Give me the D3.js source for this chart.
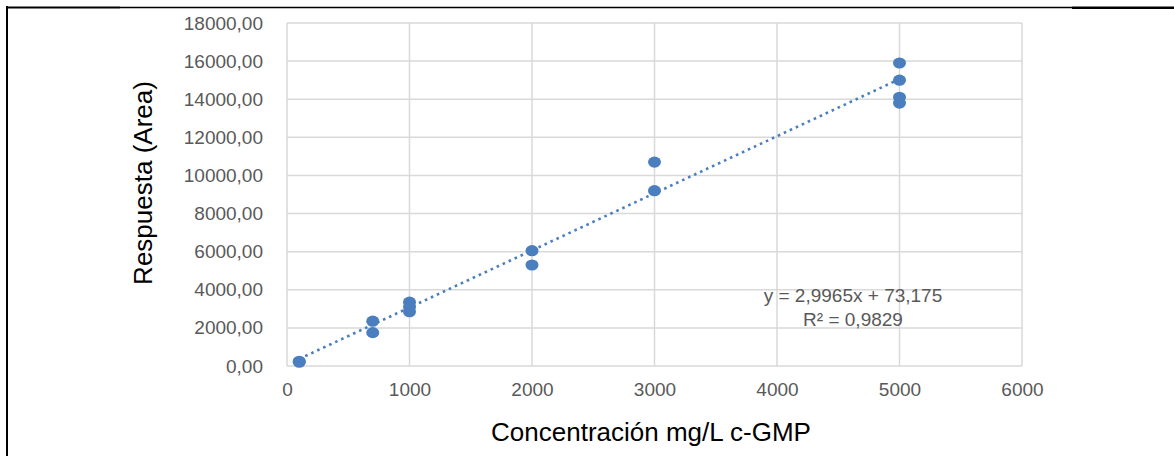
<!DOCTYPE html>
<html>
<head>
<meta charset="utf-8">
<script src="https://cdn.jsdelivr.net/npm/d3@7"></script>
<style>
  html, body { margin: 0; padding: 0; background: #fff; }
  svg { display: block; }
</style>
</head>
<body>
<svg id="chart" width="1174" height="456"></svg>
<script>
// ---- data ----
const concentrations = [100, 100, 700, 700, 1000, 1000, 1000, 2000, 2000, 3000, 3000, 5000, 5000, 5000, 5000];
const areas          = [250, 200, 2350, 1750, 3350, 3100, 2850, 6050, 5300, 10700, 9200, 15900, 15000, 14100, 13800];
const slope = 2.9965;
const intercept = 73.175;
const r2Label = "R² = 0,9829";
const eqLabel = "y = 2,9965x + 73,175";
const xTicks = [0, 1000, 2000, 3000, 4000, 5000, 6000];
const yTicks = [0, 2000, 4000, 6000, 8000, 10000, 12000, 14000, 16000, 18000];
const xTitle = "Concentración mg/L c-GMP";
const yTitle = "Respuesta (Area)";

(function () {
// ---- layout ----
const svg = d3.select("#chart");
const pL = 287, pR = 1022, pT = 23, pB = 366;
const x = d3.scaleLinear().domain([0, 6000]).range([pL, pR]);
const y = d3.scaleLinear().domain([0, 18000]).range([pB, pT]);

const loc = d3.formatLocale({decimal: ",", thousands: "", grouping: [3], currency: ["", ""]});
const fmtY = loc.format(".2f");

const font = "'Liberation Sans', Arial, sans-serif";
const tickColor = "#595959";
const gridColor = "#d9d9d9";
const markColor = "#4a7ebf";

// page frame
svg.append("line").attr("x1", 7).attr("x2", 7).attr("y1", 6).attr("y2", 456)
  .attr("stroke", "#000").attr("stroke-width", 2);
svg.append("line").attr("x1", 6).attr("x2", 120).attr("y1", 7.5).attr("y2", 7.5)
  .attr("stroke", "#000").attr("stroke-width", 2);
svg.append("line").attr("x1", 120).attr("x2", 1072).attr("y1", 7.5).attr("y2", 7.5)
  .attr("stroke", "#000").attr("stroke-width", 1.3);
svg.append("line").attr("x1", 1072).attr("x2", 1174).attr("y1", 7.8).attr("y2", 7.8)
  .attr("stroke", "#000").attr("stroke-width", 2.6);

// grid
const g = svg.append("g");
g.selectAll(".hg").data(yTicks).join("line")
  .attr("x1", pL).attr("x2", pR)
  .attr("y1", d => y(d)).attr("y2", d => y(d))
  .attr("stroke", gridColor).attr("stroke-width", 1.5);
g.selectAll(".vg").data(xTicks).join("line")
  .attr("y1", pT).attr("y2", pB)
  .attr("x1", d => x(d)).attr("x2", d => x(d))
  .attr("stroke", gridColor).attr("stroke-width", 1.5);

// axes via d3 axis (labels only)
const yAxis = d3.axisLeft(y).tickValues(yTicks).tickFormat(fmtY).tickSize(0).tickPadding(24);
const yg = svg.append("g").attr("transform", `translate(${pL},0)`).call(yAxis);
yg.select(".domain").remove();
yg.selectAll("text").attr("fill", tickColor).style("font-family", font).style("font-size", "19px");

const xAxis = d3.axisBottom(x).tickValues(xTicks).tickFormat(d3.format("d")).tickSize(0).tickPadding(17);
const xg = svg.append("g").attr("transform", `translate(0,${pB})`).call(xAxis);
xg.select(".domain").remove();
xg.selectAll("text").attr("fill", tickColor).style("font-family", font).style("font-size", "19px");

// trendline
const xMin = d3.min(concentrations), xMax = d3.max(concentrations);
svg.append("line")
  .attr("x1", x(xMin)).attr("y1", y(slope * xMin + intercept))
  .attr("x2", x(xMax)).attr("y2", y(slope * xMax + intercept))
  .attr("stroke", markColor).attr("stroke-width", 2.6)
  .attr("stroke-dasharray", "2.6,4");

// points
svg.selectAll(".pt").data(concentrations.map((c, i) => [c, areas[i]])).join("ellipse")
  .attr("cx", d => x(d[0])).attr("cy", d => y(d[1]))
  .attr("rx", 6.5).attr("ry", 5.6)
  .attr("fill", markColor);

// equation labels
svg.append("text").attr("x", 853).attr("y", 302).attr("text-anchor", "middle")
  .attr("fill", tickColor).style("font-family", font).style("font-size", "19px").text(eqLabel);
svg.append("text").attr("x", 853).attr("y", 326).attr("text-anchor", "middle")
  .attr("fill", tickColor).style("font-family", font).style("font-size", "19px").text(r2Label);

// axis titles
svg.append("text").attr("x", 651).attr("y", 441).attr("text-anchor", "middle")
  .attr("fill", "#000").style("font-family", font).style("font-size", "26px").text(xTitle);
svg.append("text").attr("transform", "translate(152,183) rotate(-90)").attr("text-anchor", "middle")
  .attr("fill", "#000").style("font-family", font).style("font-size", "26px").text(yTitle);
})();
</script>
</body>
</html>
